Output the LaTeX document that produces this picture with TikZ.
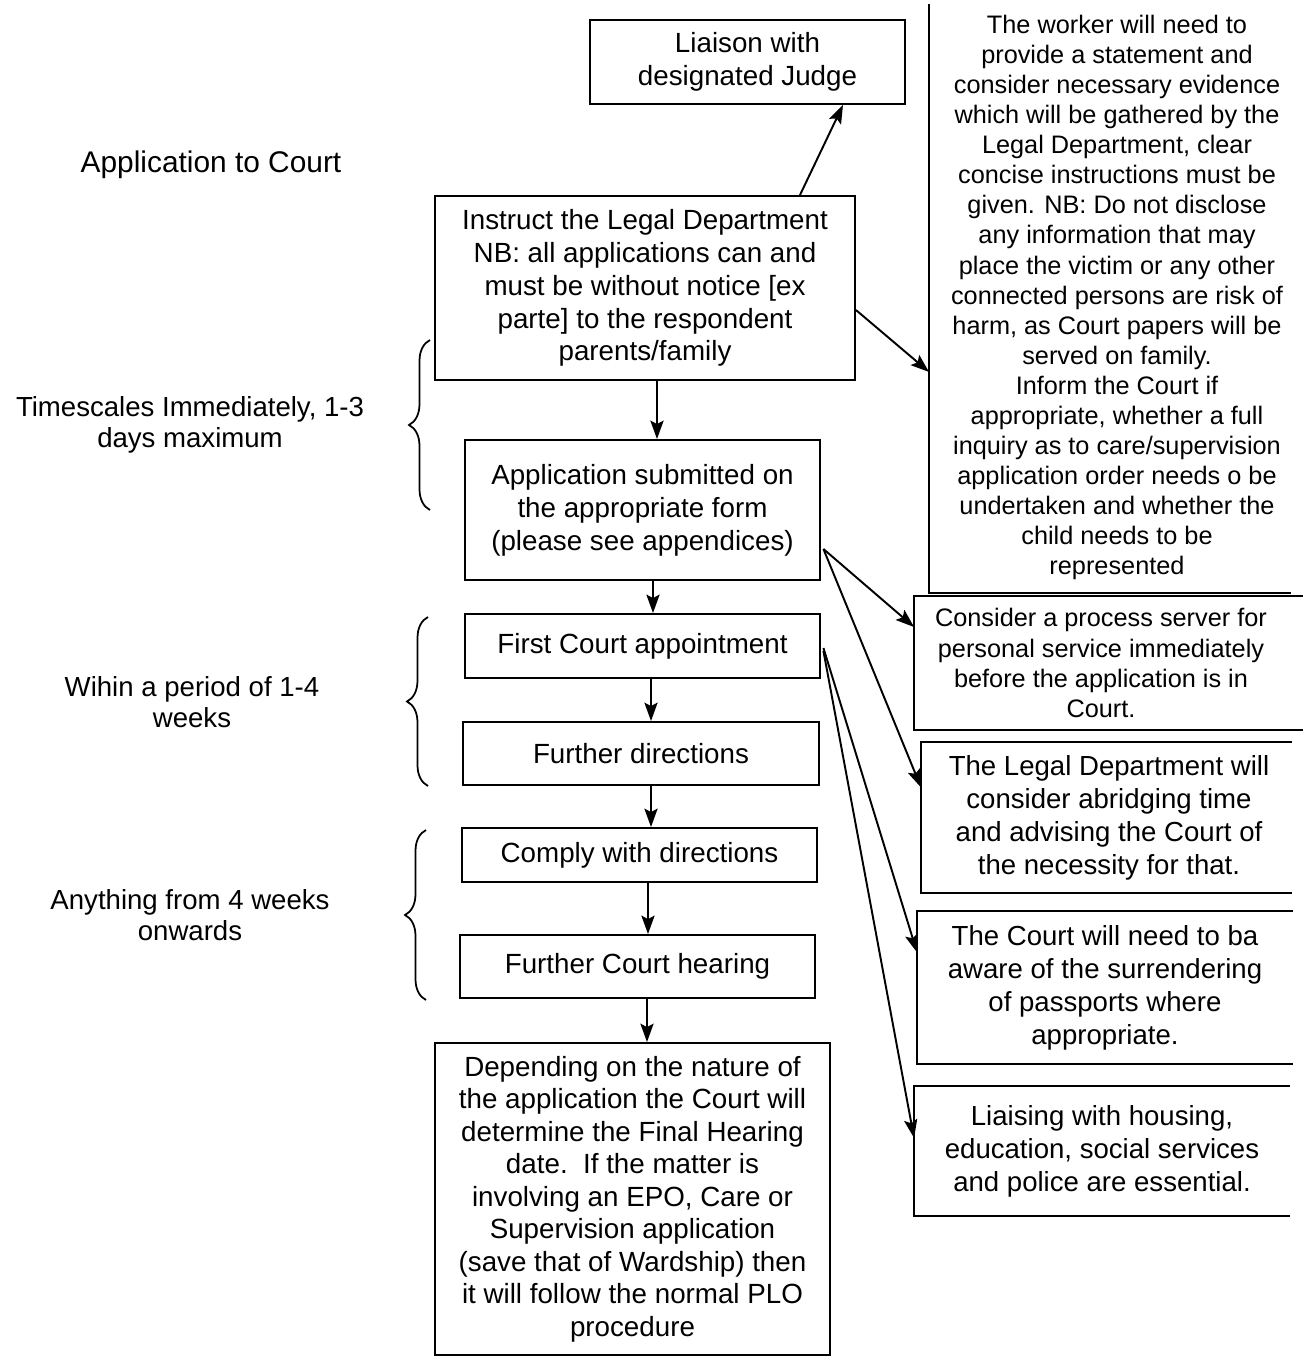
\documentclass[tikz,border=0pt]{standalone}
\usepackage{fontspec}
\setmainfont{Liberation Sans}
\usetikzlibrary{arrows.meta,decorations.pathreplacing,calc}
\begin{document}
\begin{tikzpicture}[x=0.02cm,y=-0.02cm,line width=1.1pt,
  box/.style={draw,inner sep=0pt,align=center,font=\fontsize{15.8}{18.7}\selectfont},
  sidebox/.style={inner sep=0pt,align=center},
  smalltxt/.style={font=\fontsize{14.4}{17.1}\selectfont},
  bigtxt/.style={font=\fontsize{15.7}{18.8}\selectfont},
  lbl/.style={inner sep=0pt,align=center,font=\fontsize{15.7}{17.8}\selectfont},
  arr/.style={-{Stealth[length=10.5pt,width=7.5pt,inset=2pt]}},
  brc/.style={decorate,decoration={brace,amplitude=0.42cm},line width=1pt}]
\useasboundingbox (0,0) rectangle (1303,1360);
\fill[white] (0,0) rectangle (1303,1360);

% main column
\node[box,minimum width=6.3cm,minimum height=1.68cm] (liaison) at (747.5,62) {Liaison with\\designated Judge};
\node[box,minimum width=8.4cm,minimum height=3.68cm] (instruct) at (645,288) {Instruct the Legal Department\\NB: all applications can and\\must be without notice [ex\\parte] to the respondent\\parents/family};
\node[box,minimum width=7.1cm,minimum height=2.8cm] (appsub) at (642.5,510) {Application submitted on\\the appropriate form\\(please see appendices)};
\node[box,minimum width=7.1cm,minimum height=1.28cm] (first) at (642.5,646) {First Court appointment};
\node[box,minimum width=7.12cm,minimum height=1.26cm] (fdir) at (641,753.5) {Further directions};
\node[box,minimum width=7.1cm,minimum height=1.08cm] (comply) at (639.5,855) {Comply with directions};
\node[box,minimum width=7.1cm,minimum height=1.26cm] (fch) at (637.5,966.5) {Further Court hearing};
\node[box,minimum width=7.9cm,minimum height=6.24cm,font=\fontsize{15.8}{18.5}\selectfont] (dep) at (632.5,1199) {Depending on the nature of\\the application the Court will\\determine the Final Hearing\\date.\ \ If the matter is\\involving an EPO, Care or\\Supervision application\\(save that of Wardship) then\\it will follow the normal PLO\\procedure};

% left labels
\node[lbl,font=\fontsize{17}{19}\selectfont] (lapp) at (211,165) {Application to Court};
\node[lbl] (ltime) at (190,425) {Timescales Immediately, 1-3\\days maximum};
\node[lbl] (lwithin) at (192,702) {Wihin a period of 1-4\\weeks};
\node[lbl] (lany) at (190,915) {Anything from 4 weeks\\onwards};

% braces
\coordinate (b1t) at (430,340); \coordinate (b1b) at (430,510);
\coordinate (b2t) at (428,617); \coordinate (b2b) at (428,786);
\coordinate (b3t) at (426,830); \coordinate (b3b) at (426,1000);
\draw[brc] (b1b) -- (b1t);
\draw[brc] (b2b) -- (b2t);
\draw[brc] (b3b) -- (b3t);

% right column
\node[sidebox,smalltxt,minimum width=7.48cm,minimum height=11.78cm] (big) at (1117,297.5) {The worker will need to\\provide a statement and\\consider necessary evidence\\which will be gathered by the\\Legal Department, clear\\concise instructions must be\\given. NB: Do not disclose\\any information that may\\place the victim or any other\\connected persons are risk of\\harm, as Court papers will be\\served on family.\\Inform the Court if\\appropriate, whether a full\\inquiry as to care/supervision\\application order needs o be\\undertaken and whether the\\child needs to be\\represented};
\draw ([yshift=-0.04cm]big.north west) -- (big.south west) -- ([xshift=-0.28cm]big.south east);

\node[sidebox,smalltxt,minimum width=7.44cm,minimum height=2.64cm] (pserv) at (1101,663) {Consider a process server for\\personal service immediately\\before the application is in\\Court.};
\draw ([xshift=0.3cm]pserv.north east) -- (pserv.north west) -- (pserv.south west) -- ([xshift=0.3cm]pserv.south east);

\node[sidebox,bigtxt,minimum width=7.48cm,minimum height=2.98cm] (abridge) at (1109,817.5) {The Legal Department will\\consider abridging time\\and advising the Court of\\the necessity for that.};
\draw ([xshift=-0.1cm]abridge.north east) -- (abridge.north west) -- (abridge.south west) -- ([xshift=-0.1cm]abridge.south east);

\node[sidebox,bigtxt,minimum width=7.48cm,minimum height=3.02cm] (passp) at (1105,987.5) {The Court will need to ba\\aware of the surrendering\\of passports where\\appropriate.};
\draw (passp.north east) -- (passp.north west) -- (passp.south west) -- (passp.south east);

\node[sidebox,bigtxt,minimum width=7.48cm,minimum height=2.56cm] (liais) at (1102,1151) {Liaising with housing,\\education, social services\\and police are essential.};
\draw (liais.north east) -- (liais.north west) -- (liais.south west) -- (liais.south east);

% connectors
\draw[arr] ([xshift=3.1cm]instruct.north) -- ([xshift=1.91cm]liaison.south);
\draw[arr] ([yshift=-0.44cm]instruct.east) -- ([yshift=-1.49cm]big.west);
\draw[arr] ([xshift=0.24cm]instruct.south) -- ([xshift=0.24cm]instruct.south |- appsub.north);
\draw[arr] ([xshift=0.21cm]appsub.south) -- ([xshift=0.21cm]appsub.south |- first.north);
\draw[arr] ([xshift=0.17cm]first.south) -- ([xshift=0.17cm]first.south |- fdir.north);
\draw[arr] ([xshift=0.2cm]fdir.south) -- ([xshift=0.2cm]fdir.south |- comply.north);
\draw[arr] ([xshift=0.17cm]comply.south) -- ([xshift=0.17cm]comply.south |- fch.north);
\draw[arr] ([xshift=0.19cm]fch.south) -- ([xshift=0.19cm]fch.south |- dep.north);

\draw[arr] ([xshift=0.05cm,yshift=-0.78cm]appsub.east) -- ([yshift=0.72cm]pserv.west);
\draw[arr] ([xshift=0.05cm,yshift=-0.78cm]appsub.east) -- ([yshift=0.6cm]abridge.west);
\draw[arr] ([xshift=0.05cm,yshift=-0.04cm]first.east) -- ([yshift=0.7cm]passp.west);
\draw[arr] ([xshift=0.05cm,yshift=-0.1cm]first.east) -- ([yshift=0.26cm]liais.west);
\end{tikzpicture}
\end{document}
